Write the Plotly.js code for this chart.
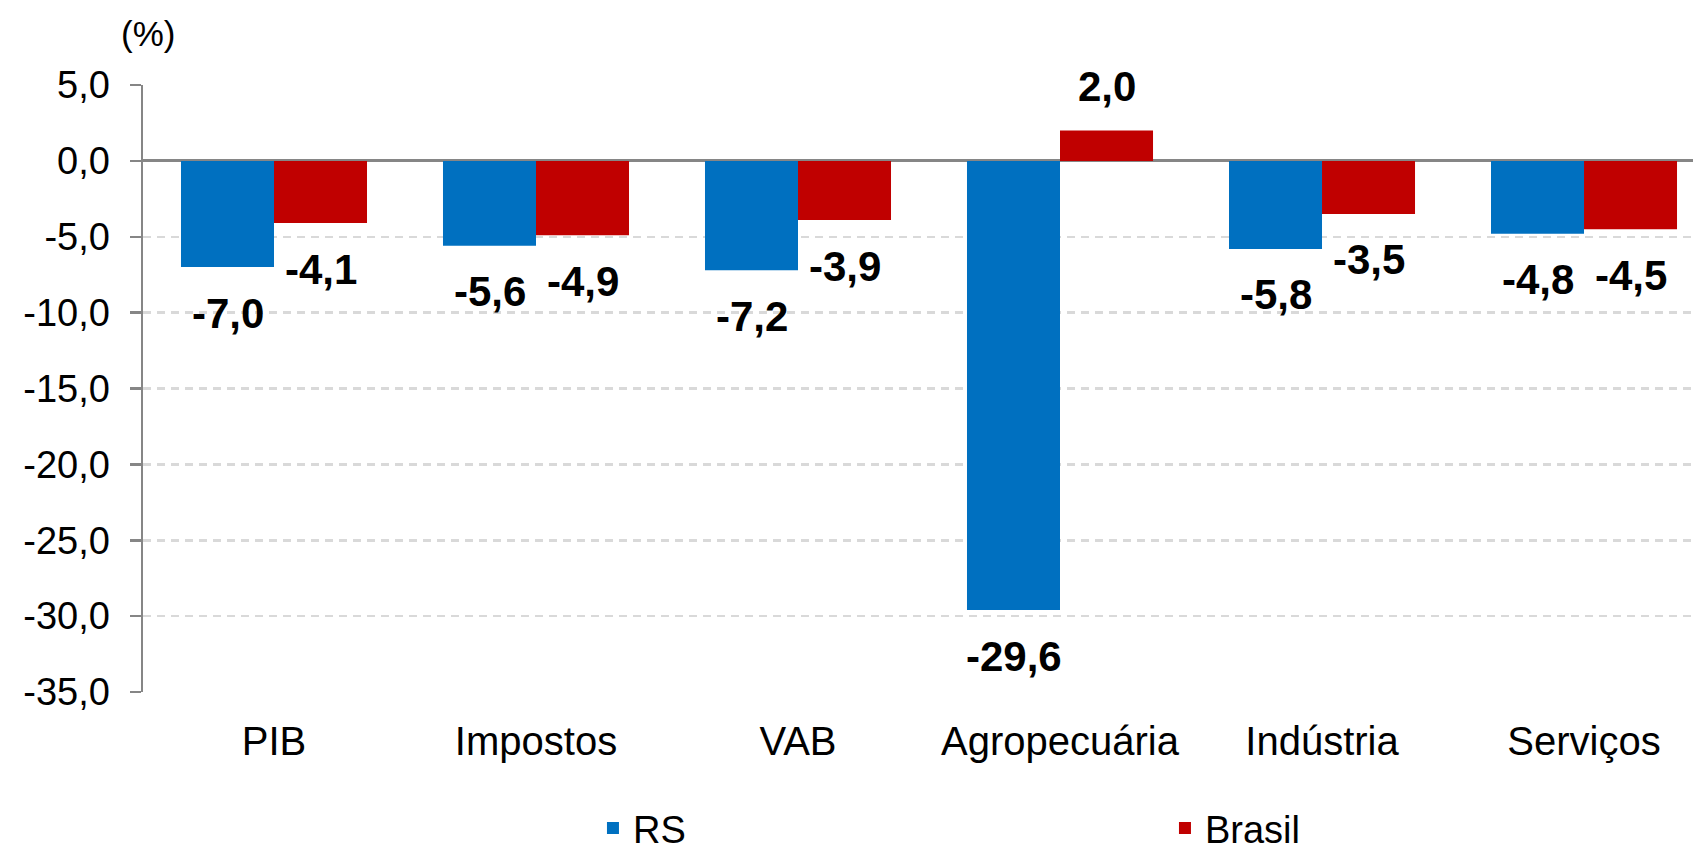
<!DOCTYPE html>
<html>
<head>
<meta charset="utf-8">
<script src="https://cdn.plot.ly/plotly-3.0.1.min.js"></script>
<style>
html,body{margin:0;padding:0;background:#fff;}
#chart{width:1693px;height:851px;}
</style>
</head>
<body>
<div id="chart"></div>
<script>
const categories = ["PIB", "Impostos", "VAB", "Agropecuária", "Indústria", "Serviços"];
const rsValues = [-7.0, -5.6, -7.2, -29.6, -5.8, -4.8];
const brasilValues = [-4.1, -4.9, -3.9, 2.0, -3.5, -4.5];
const seriesNames = ["RS", "Brasil"];
const yTickVals = [5, 0, -5, -10, -15, -20, -25, -30, -35];
const yTickText = ["5,0", "0,0", "-5,0", "-10,0", "-15,0", "-20,0", "-25,0", "-30,0", "-35,0"];
const unitLabel = "(%)";

const BLUE = "#0070C0", RED = "#C00000";
const AXIS = "#868686";
const FONT = "Liberation Sans, Arial, sans-serif";

const bargap = 0.29;
const half = (1 - bargap) / 4;
const fmt = v => v.toFixed(1).replace(".", ",");

const traces = [
  {type: "bar", name: seriesNames[0], x: categories, y: rsValues,
   marker: {color: BLUE}, hoverinfo: "skip"},
  {type: "bar", name: seriesNames[1], x: categories, y: brasilValues,
   marker: {color: RED}, hoverinfo: "skip"}
];

const annotations = [];
[rsValues, brasilValues].forEach((vals, s) => {
  vals.forEach((v, i) => {
    annotations.push({
      x: i + (s === 0 ? -half : half), y: v, xref: "x", yref: "y",
      text: "<b>" + fmt(v) + "</b>", showarrow: false,
      xanchor: "center", yanchor: "middle",
      yshift: v >= 0 ? 44 : -46,
      font: {family: FONT, size: 42, color: "#000"}
    });
  });
});
annotations.push({
  x: 0, y: 1, xref: "paper", yref: "paper", text: unitLabel, showarrow: false,
  xanchor: "center", yanchor: "middle", xshift: 5, yshift: 52,
  font: {family: FONT, size: 35, color: "#000"}
});

const xEnd = 5.416;
const layout = {
  width: 1693, height: 851,
  margin: {l: 143, r: 0, t: 85, b: 159, autoexpand: false},
  paper_bgcolor: "#fff", plot_bgcolor: "#fff",
  barmode: "group", bargap: bargap, bargroupgap: 0,
  font: {family: FONT, size: 38, color: "#000"},
  showlegend: true,
  legend: {orientation: "h", x: 0.2903, xanchor: "left", y: -0.1725, yanchor: "top",
           font: {family: FONT, size: 38, color: "#000"},
           entrywidth: 527, itemwidth: 30, traceorder: "normal"},
  xaxis: {type: "category", range: [-0.5, xEnd], showline: false, showgrid: false,
          zeroline: false, ticks: "", ticklabelstandoff: 22,
          tickfont: {family: FONT, size: 40, color: "#000"}, fixedrange: true},
  xaxis2: {type: "linear", overlaying: "x", anchor: "free", position: 35/40,
           range: [-0.5, xEnd], showline: false, showgrid: false, zeroline: false,
           tickvals: [0.5, 1.5, 2.5, 3.5, 4.5], ticktext: ["", "", "", "", ""],
           ticks: "outside", ticklen: 11, tickwidth: 2.5, tickcolor: AXIS,
           showticklabels: false, side: "bottom", fixedrange: true},
  yaxis: {range: [-35, 5], tickvals: yTickVals, ticktext: yTickText,
          showline: true, linecolor: AXIS, linewidth: 2.5,
          ticks: "outside", ticklen: 11, tickwidth: 2.5, tickcolor: AXIS,
          showgrid: true, gridcolor: "#d9d9d9", gridwidth: 2.5, griddash: "8px,6px",
          zeroline: true, zerolinecolor: AXIS, zerolinewidth: 3,
          ticklabelstandoff: 12,
          tickfont: {family: FONT, size: 38, color: "#000"}, fixedrange: true},
  annotations: annotations
};

Plotly.newPlot("chart", traces, layout, {displayModeBar: false, staticPlot: true});
</script>
</body>
</html>
